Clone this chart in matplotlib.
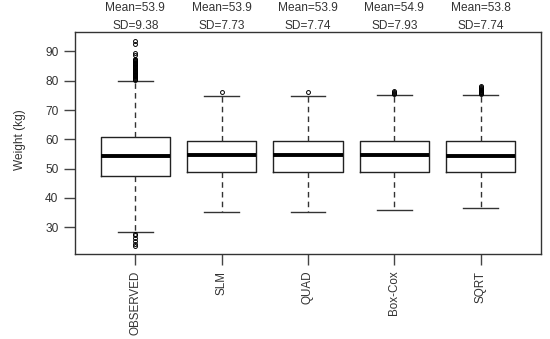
import matplotlib
matplotlib.use('Agg')
import matplotlib.pyplot as plt

plt.rcParams['font.family'] = ['Liberation Sans', 'DejaVu Sans']

# 各方法的箱线图统计量
labels = ['OBSERVED', 'SLM', 'QUAD', 'Box-Cox', 'SQRT']
whislo = [28.3, 35.3, 35.3, 35.9, 36.7]
q1 = [47.6, 48.8, 48.8, 48.8, 48.8]
med = [54.2, 54.5, 54.5, 54.5, 54.2]
q3 = [60.7, 59.4, 59.4, 59.4, 59.4]
whishi = [80.0, 74.9, 74.9, 75.2, 75.1]
fliers = [
    [80.3, 80.6, 80.9, 81.2, 81.5, 81.8, 82.1, 82.4, 82.7, 83.0, 83.3, 83.6,
     83.9, 84.2, 84.5, 84.8, 85.1, 85.4, 85.7, 86.0, 86.3, 86.6, 86.9, 87.2,
     87.5, 88.8, 89.3, 92.6, 93.6,
     27.8, 27.3, 26.2, 25.2, 24.3, 23.5],
    [76.1],
    [76.1],
    [75.6, 75.9, 76.2, 76.5],
    [75.4, 75.7, 76.0, 76.3, 76.6, 76.9, 77.2, 77.5, 77.8, 78.2],
]
means = ['53.9', '53.9', '53.9', '54.9', '53.8']
sds = ['9.38', '7.73', '7.74', '7.93', '7.74']
yticks = [30, 40, 50, 60, 70, 80, 90]

stats = []
for i in range(len(labels)):
    stats.append(dict(label=labels[i], whislo=whislo[i], q1=q1[i], med=med[i],
                      q3=q3[i], whishi=whishi[i], fliers=fliers[i]))

fig = plt.figure(figsize=(5.5, 3.39), dpi=100)
ax = fig.add_axes([75/550, 1-254/339, 466/550, 222/339])

tc = '#333333'
ax.bxp(stats, positions=range(1, 6), widths=0.8, patch_artist=False,
       boxprops=dict(color='#222222', linewidth=1.0),
       medianprops=dict(color='black', linewidth=2.8, solid_capstyle='butt'),
       whiskerprops=dict(color='#333333', linewidth=1.0, linestyle=(0, (4, 3))),
       capprops=dict(color='#333333', linewidth=1.0),
       capwidths=0.4,
       flierprops=dict(marker='o', markersize=2.8, markerfacecolor='none',
                       markeredgecolor='black', markeredgewidth=0.7))

ax.set_xlim(0.3, 5.7)
ax.set_ylim(20.9, 96.6)
ax.set_yticks(yticks)
ax.set_yticklabels([str(v) for v in yticks], fontsize=8.6, color=tc)
ax.set_xticks(range(1, 6))
ax.set_xticklabels(labels, rotation=90, fontsize=8.4, color=tc)
ax.tick_params(axis='both', length=8, width=1.0, color='#444444', pad=4)
for s in ax.spines.values():
    s.set_color('#333333')
    s.set_linewidth(1.0)

for i in range(len(labels)):
    ax.text(i + 1, 1 + 24/222, 'Mean=' + means[i], transform=ax.get_xaxis_transform(),
            ha='center', va='center', fontsize=8.6, color=tc)
    ax.text(i + 1, 1 + 6/222, 'SD=' + sds[i], transform=ax.get_xaxis_transform(),
            ha='center', va='center', fontsize=8.6, color=tc)

fig.text(20/550, 1-140/339, 'Weight (kg)', rotation=90, ha='center', va='center',
         fontsize=8.6, color=tc)

fig.savefig('out.png', dpi=100)
